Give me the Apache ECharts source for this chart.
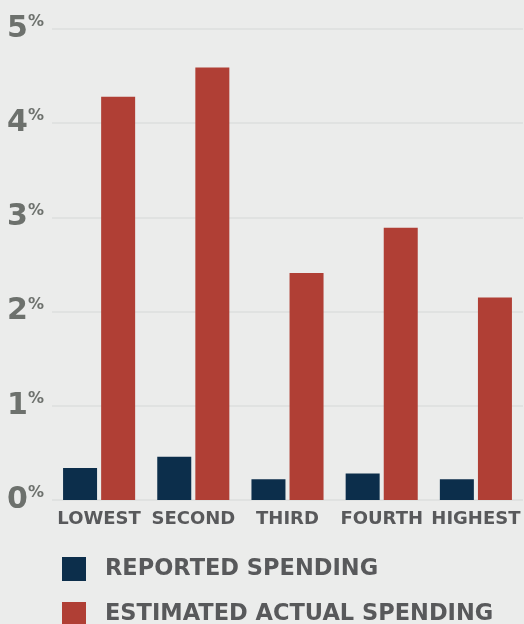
<!DOCTYPE html>
<html><head><meta charset="utf-8">
<script src="https://cdn.jsdelivr.net/npm/echarts@6/dist/echarts.min.js"></script>
<style>html,body{margin:0;padding:0;background:#ebeceb;}#c{width:524px;height:624px;}</style>
</head><body><div id="c"></div>
<script>
const categories = ['LOWEST', 'SECOND', 'THIRD', 'FOURTH', 'HIGHEST'];
const reported = [0.34, 0.46, 0.22, 0.28, 0.22];
const estimated = [4.28, 4.59, 2.41, 2.89, 2.15];
const yTicks = [0, 1, 2, 3, 4, 5];
const seriesNames = ['REPORTED SPENDING', 'ESTIMATED ACTUAL SPENDING'];

const legendText = { fontFamily: 'DejaVu Sans', fontWeight: 'bold', fontSize: 22.5, color: '#58595b', padding: [0, 0, 0, 14] };
const chart = echarts.init(document.getElementById('c'));
chart.setOption({
  backgroundColor: '#ebeceb',
  animation: false,
  grid: { left: 52, right: 1, top: 29, bottom: 124 },
  legend: [
    { left: 62, top: 557, padding: 0, itemWidth: 24, itemHeight: 24, icon: 'rect', textStyle: legendText, data: [seriesNames[0]] },
    { left: 62, top: 602, padding: 0, itemWidth: 24, itemHeight: 24, icon: 'rect', textStyle: legendText, data: [seriesNames[1]] }
  ],
  xAxis: {
    type: 'category', data: categories,
    axisLine: { show: false }, axisTick: { show: false },
    axisLabel: { margin: 10, fontFamily: 'DejaVu Sans', fontWeight: 'bold', fontSize: 18, color: '#58595b', interval: 0 }
  },
  yAxis: {
    type: 'value', min: yTicks[0], max: yTicks[yTicks.length - 1], interval: 1,
    axisLine: { show: false }, axisTick: { show: false },
    splitLine: { lineStyle: { color: '#e0e2e1', width: 2 } },
    axisLabel: {
      margin: 8,
      formatter: v => '{n|' + v + '}{p|%}',
      rich: {
        n: { fontFamily: 'DejaVu Sans', fontWeight: 'bold', fontSize: 30, color: '#6d716d', lineHeight: 30 },
        p: { fontFamily: 'DejaVu Sans', fontWeight: 'bold', fontSize: 16, color: '#6d716d', verticalAlign: 'top', lineHeight: 30, padding: [0, 0, 12, 0] }
      }
    }
  },
  series: [
    { name: seriesNames[0], type: 'bar', data: reported, barWidth: 34, barGap: '12%', itemStyle: { color: '#0c2e4b' } },
    { name: seriesNames[1], type: 'bar', data: estimated, barWidth: 34, itemStyle: { color: '#b03f35' } }
  ]
});
</script></body></html>
